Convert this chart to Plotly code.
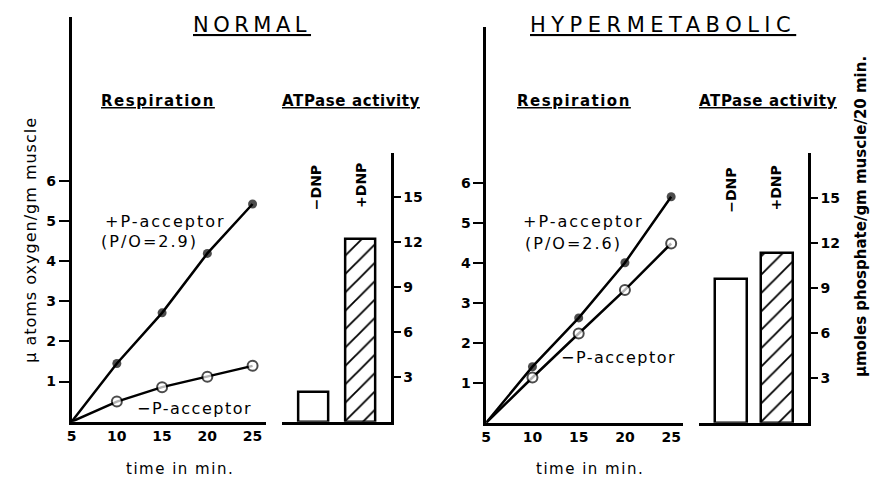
import plotly.graph_objects as go

W, H = 873, 479

# ---------------- data ----------------
time_min = [5, 10, 15, 20, 25]
normal_plus_acceptor = [0, 1.45, 2.71, 4.19, 5.42]
normal_minus_acceptor = [0, 0.50, 0.86, 1.12, 1.39]
hyper_plus_acceptor = [0, 1.40, 2.62, 4.00, 5.65]
hyper_minus_acceptor = [0, 1.13, 2.23, 3.32, 4.48]

dnp_categories = ["−DNP", "+DNP"]
normal_atpase = [2.0, 12.2]
hyper_atpase = [9.6, 11.3]

resp_ticks = [1, 2, 3, 4, 5, 6]
time_ticks = [5, 10, 15, 20, 25]
atpase_ticks = [3, 6, 9, 12, 15]

# ---------------- helpers ----------------
def px(x):
    return x / W

def py(y):
    return 1 - y / H

FONT = "DejaVu Sans"
BLACK = "black"

fig = go.Figure()

def add_lines(xa, ya, plus, minus):
    fig.add_trace(go.Scatter(
        x=time_min, y=plus, xaxis=xa, yaxis=ya, mode="lines+markers",
        line=dict(color=BLACK, width=2.5),
        marker=dict(size=[0, 9, 9, 9, 9], color=BLACK, line=dict(width=0)),
        cliponaxis=False, showlegend=False))
    fig.add_trace(go.Scatter(
        x=time_min, y=minus, xaxis=xa, yaxis=ya, mode="lines+markers",
        line=dict(color=BLACK, width=2.5),
        marker=dict(size=[0, 10, 10, 10, 10], color="white",
                    line=dict(color=BLACK, width=2)),
        cliponaxis=False, showlegend=False))

def add_bars(xa, ya, vals, width):
    fig.add_trace(go.Bar(
        x=dnp_categories, y=vals, xaxis=xa, yaxis=ya, width=width,
        marker=dict(color="white", line=dict(color=BLACK, width=2.5),
                    pattern=dict(shape=["", "/"], fgcolor=BLACK, bgcolor="white",
                                 fgopacity=1, size=13, solidity=0.14)),
        showlegend=False))

add_lines("x", "y", normal_plus_acceptor, normal_minus_acceptor)
add_bars("x2", "y2", normal_atpase, 0.63)
add_lines("x3", "y3", hyper_plus_acceptor, hyper_minus_acceptor)
add_bars("x4", "y4", hyper_atpase, 0.69)

tickfont = dict(family=FONT, size=14, color=BLACK, weight="bold")

def line_x(dom_px, x0_px, unit):
    return dict(domain=[px(dom_px[0]), px(dom_px[1])],
                range=[5, 5 + (dom_px[1] - x0_px) / unit],
                tickvals=time_ticks, ticks="", showline=True, linewidth=2.5,
                linecolor=BLACK, showgrid=False, zeroline=False,
                tickfont=tickfont, fixedrange=True)

def line_y(anchor, y0, unit, top):
    return dict(domain=[py(y0), py(top)], range=[0, (y0 - top) / unit],
                anchor=anchor, tickvals=resp_ticks, ticks="outside", ticklen=10,
                tickwidth=2, tickcolor=BLACK, showline=True, linewidth=2.5,
                linecolor=BLACK, showgrid=False, zeroline=False,
                tickfont=tickfont)

def bar_x(anchor, dom, rng):
    return dict(domain=[px(dom[0]), px(dom[1])], range=rng, type="category",
                anchor=anchor, showticklabels=False, ticks="", showline=True,
                linewidth=2.5, linecolor=BLACK, showgrid=False, zeroline=False)

def bar_y(anchor, y0, top):
    return dict(domain=[py(y0), py(top)], range=[0, (y0 - top) / 15.0],
                anchor=anchor, side="right", tickvals=atpase_ticks,
                ticks="outside", ticklen=7, tickwidth=2, tickcolor=BLACK,
                showline=True, linewidth=2.5, linecolor=BLACK, showgrid=False,
                zeroline=False, tickfont=tickfont)

fig.update_layout(
    width=W, height=H, autosize=False,
    margin=dict(l=0, r=0, t=0, b=0),
    paper_bgcolor="white", plot_bgcolor="white",
    bargap=0,
    xaxis=dict(anchor="y", **line_x((67, 263), 67, 9.1)),
    yaxis=line_y("x", 421.7, 40.17, 17),
    xaxis2=bar_x("y2", (279, 388), [-0.653, 1.642]),
    yaxis2=bar_y("x2", 421.7, 153),
    xaxis3=dict(anchor="y3", **line_x((484, 681.7), 484, 9.3)),
    yaxis3=line_y("x3", 422.7, 40.0, 27),
    xaxis4=bar_x("y4", (698, 807.7), [-0.70, 1.675]),
    yaxis4=bar_y("x4", 422.7, 153),
)

def ann(text, x, y, size=15, angle=0, bold=False, spacing=0):
    if spacing:
        text = '<span style="letter-spacing:%gpx">%s</span>' % (spacing, text)
    fig.add_annotation(
        text=text, x=px(x), y=py(y), xref="paper", yref="paper",
        showarrow=False, textangle=angle, xanchor="center", yanchor="middle",
        font=dict(family=FONT, size=size, color=BLACK,
                  weight="bold" if bold else "normal"))

# titles
ann("<u>NORMAL</u>", 248, 25, size=21, spacing=4.5)
ann("<u>HYPERMETABOLIC</u>", 662, 25, size=21, spacing=5.5)
ann("<u>Respiration</u>", 154, 101, size=15, bold=True, spacing=1.5)
ann("<u>ATPase activity</u>", 348, 101, size=15, bold=True, spacing=0.6)
ann("<u>Respiration</u>", 572, 101, size=15, bold=True, spacing=1.5)
ann("<u>ATPase activity</u>", 767, 101, size=15, bold=True, spacing=0.6)

# line labels
ann("+P-acceptor", 161, 221, size=16, spacing=2)
ann("(P/O=2.9)", 145, 241, size=16, spacing=2)
ann("−P-acceptor", 191, 408, size=16, spacing=1.5)
ann("+P-acceptor", 582, 221, size=16, spacing=2)
ann("(P/O=2.6)", 572, 243, size=16, spacing=2)
ann("−P-acceptor", 617, 357, size=16, spacing=1.5)

# bar labels
ann("−DNP", 313, 188, size=14, angle=-90, bold=True)
ann("+DNP", 358, 185, size=14, angle=-90, bold=True)
ann("−DNP", 730, 190, size=14, angle=-90, bold=True)
ann("+DNP", 775, 188, size=14, angle=-90, bold=True)

# axis titles
ann("time in min.", 176, 469, size=15, spacing=1.5)
ann("time in min.", 588, 469, size=15, spacing=1.5)
ann("μ atoms oxygen/gm muscle", 25, 240, size=16, angle=-90, spacing=1)
ann("μmoles phosphate/gm muscle/20 min.", 861, 217, size=15, angle=-90, bold=True)

fig.write_html(
    "out.html",
    config={"displayModeBar": False},
    post_script="document.body.style.margin='0';document.body.style.overflow='hidden';",
)
